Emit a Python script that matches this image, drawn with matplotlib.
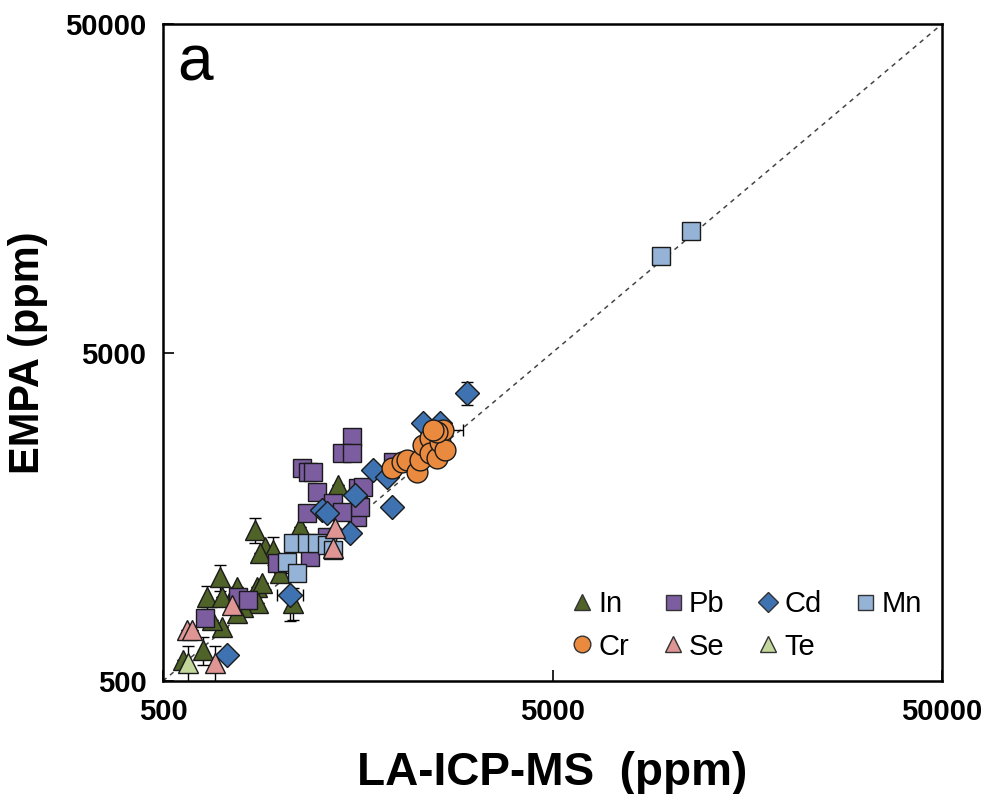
import numpy as np
import matplotlib
matplotlib.use('Agg')
import matplotlib.pyplot as plt
from matplotlib.lines import Line2D

plt.rcParams['font.family'] = ['Liberation Sans', 'DejaVu Sans']

# ── Data (ppm): LA-ICP-MS (x) vs EMPA (y) ─────────────────────────────────────
in_x = [862, 914, 959, 888, 1125, 1409, 701, 775, 872, 898, 649, 709, 878, 803,
        775, 709, 1080, 1000, 634, 563, 668]
in_y = [1439, 1277, 1251, 1225, 1469, 1972, 1035, 966, 966, 993, 900, 900, 863, 839,
        804, 729, 863, 1065, 621, 579, 766]
in_yerr = [125, 0, 120, 0, 0, 0, 95, 0, 0, 0, 70, 0, 0, 0,
           0, 0, 95, 0, 60, 0, 0]

pb_x = [1530, 1443, 1530, 1139, 1180, 1215, 1244, 1172, 1368, 1586, 1633, 1576,
        1604, 1443, 1952, 780, 827, 641, 982, 1194, 1320]
pb_y = [2758, 2466, 2466, 2220, 2159, 2159, 1877, 1620, 1738, 1930, 1944, 1576,
        1690, 1632, 2315, 900, 882, 777, 1142, 1191, 1370]

cd_x = [3023, 2330, 2576, 1733, 1940, 1558, 1282, 1320, 1512, 1061, 730, 1883]
cd_y = [3753, 3042, 3042, 2190, 1690, 1837, 1655, 1620, 1409, 913, 600, 2084]
cd_xerr = [0, 0, 0, 0, 0, 0, 0, 0, 0, 82, 0, 0]
cd_yerr = [300, 0, 0, 0, 0, 0, 0, 0, 0, 150, 0, 0]

mn_x = [9475, 11316, 1080, 1042, 1172, 1244, 1320, 1368, 1106]
mn_y = [9856, 11745, 1314, 1150, 1314, 1314, 1295, 1251, 1065]

cr_x = [1940, 2058, 2120, 2249, 2289, 2330, 2429, 2429, 2532, 2576, 2623, 2654,
        2532, 2472]
cr_y = [2220, 2315, 2348, 2159, 2348, 2608, 2739, 2466, 2381, 2663, 2897, 2518,
        2857, 2897]
cr_xerr = [0, 0, 0, 0, 0, 0, 0, 0, 0, 0, 330, 0, 0, 0]

se_x = [1383, 1368, 752, 576, 594, 680]
se_y = [1459, 1268, 851, 715, 715, 567]
se_yerr = [0, 0, 0, 0, 0, 70]

te_x = [580]
te_y = [567]
te_yerr = [70]

AX_MIN, AX_MAX = 500, 50000
TICKS = [500, 5000, 50000]

# ── Styles ────────────────────────────────────────────────────────────────────
STYLE = {
    'In': dict(marker='^', color='#4F6228', ms=14),
    'Pb': dict(marker='s', color='#7B5DA0', ms=13.5),
    'Cd': dict(marker='D', color='#3F72B0', ms=12.5),
    'Mn': dict(marker='s', color='#95B3D7', ms=13.5),
    'Cr': dict(marker='o', color='#E98A3E', ms=15),
    'Se': dict(marker='^', color='#DE9594', ms=14),
    'Te': dict(marker='^', color='#C3D69B', ms=14),
}


def draw(ax, name, x, y, xerr=None, yerr=None):
    st = STYLE[name]
    ax.errorbar(x, y, xerr=xerr, yerr=yerr, fmt='none', ecolor='black',
                elinewidth=1, capsize=4, capthick=1, zorder=2)
    ax.plot(x, y, linestyle='none', marker=st['marker'], ms=st['ms'],
            markerfacecolor=st['color'], markeredgecolor='#1a1a1a',
            markeredgewidth=1, zorder=3)


fig = plt.figure(figsize=(9.9, 7.94), dpi=100)
ax = fig.add_axes([163 / 990, 1 - 681 / 794, (942 - 163) / 990, (681 - 24) / 794])

ax.plot([AX_MIN, AX_MAX], [AX_MIN, AX_MAX], color='#444444', lw=1.1,
        dashes=(3, 3), zorder=1)

draw(ax, 'In', in_x, in_y, yerr=in_yerr)
draw(ax, 'Pb', pb_x, pb_y)
draw(ax, 'Cd', cd_x, cd_y, xerr=cd_xerr, yerr=cd_yerr)
draw(ax, 'Mn', mn_x, mn_y)
draw(ax, 'Cr', cr_x, cr_y, xerr=cr_xerr)
draw(ax, 'Se', se_x, se_y, yerr=se_yerr)
draw(ax, 'Te', te_x, te_y, yerr=te_yerr)

ax.set_xscale('log')
ax.set_yscale('log')
ax.set_xlim(AX_MIN, AX_MAX)
ax.set_ylim(AX_MIN, AX_MAX)
ax.set_xticks(TICKS)
ax.set_yticks(TICKS)
ax.set_xticklabels([str(t) for t in TICKS])
ax.set_yticklabels([str(t) for t in TICKS])
ax.minorticks_off()
ax.tick_params(direction='in', length=8, width=1.2, labelsize=21, pad=12)
for lab in ax.get_xticklabels() + ax.get_yticklabels():
    lab.set_fontweight('bold')
for sp in ax.spines.values():
    sp.set_linewidth(1.8)

ax.set_xlabel('LA-ICP-MS  (ppm)', fontsize=33, fontweight='bold', labelpad=18)
ax.set_ylabel('EMPA (ppm)', fontsize=30, fontweight='bold', labelpad=12)

ax.text(0.018, 0.985, 'a', transform=ax.transAxes, fontsize=46,
        va='top', ha='left')

# legend, filled row-wise: In Pb Cd Mn / Cr Se Te
order = ['In', 'Cr', 'Pb', 'Se', 'Cd', 'Te', 'Mn']
handles = [Line2D([], [], linestyle='none', marker=STYLE[n]['marker'],
                  ms=STYLE[n]['ms'] * 0.8, markerfacecolor=STYLE[n]['color'],
                  markeredgecolor='#333333', markeredgewidth=1, label=n)
           for n in order]
ax.legend(handles=handles, ncol=4, loc='lower right', frameon=False,
          fontsize=21, handlelength=0.8, handletextpad=0.15,
          columnspacing=1.1, labelspacing=0.5,
          bbox_to_anchor=(1.0, 0.0), borderaxespad=0.3)

fig.savefig('out.png', dpi=100)
